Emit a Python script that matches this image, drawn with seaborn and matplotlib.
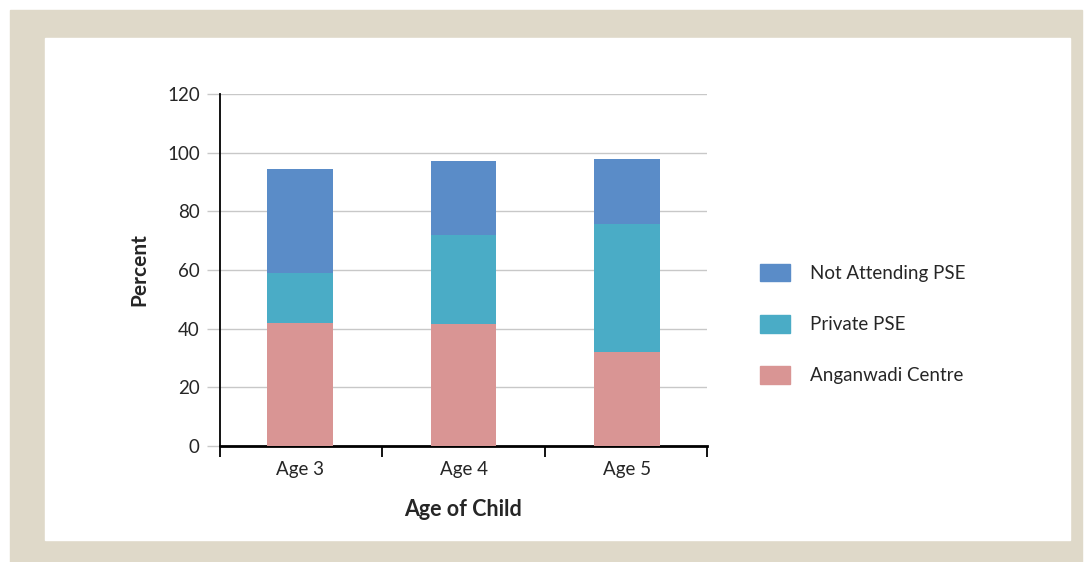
import numpy as np
import pandas as pd
import matplotlib
matplotlib.use("Agg")
import matplotlib.pyplot as plt
from matplotlib.patches import Rectangle
import seaborn as sns

# data
ages = ["Age 3", "Age 4", "Age 5"]
anganwadi = [41.8, 41.5, 32.0]
private_pse = [17.3, 30.6, 43.8]
not_attending = [35.5, 24.9, 21.9]

sns.set_style("white")
plt.rcParams["font.family"] = ["Lato", "DejaVu Sans"]

df = pd.DataFrame({"age": ages, "anganwadi": anganwadi,
                   "private": private_pse, "not_att": not_attending})
df["lvl2"] = df.anganwadi + df.private
df["lvl3"] = df.lvl2 + df.not_att

W, H = 1092, 562
fig = plt.figure(figsize=(W / 100, H / 100), dpi=100)
fig.patch.set_facecolor("white")
fig.patches.append(Rectangle((10 / W, 0), 1072 / W, 1 - 10 / H,
                             transform=fig.transFigure, color="#dfd9c9", zorder=-2))
fig.patches.append(Rectangle((45 / W, 1 - 540 / H), 1025 / W, 502 / H,
                             transform=fig.transFigure, color="white", zorder=-1))

ax = fig.add_axes([220 / W, 1 - 446 / H, 487 / W, 352 / H])
ax.set_facecolor("none")

c_blue, c_teal, c_pink = "#5a8cc8", "#4aacc6", "#d99594"
bar_kw = dict(width=0.4, saturation=1, ax=ax, linewidth=0, zorder=3)
sns.barplot(data=df, x="age", y="lvl3", color=c_blue, label="Not Attending PSE", **bar_kw)
sns.barplot(data=df, x="age", y="lvl2", color=c_teal, label="Private PSE", **bar_kw)
sns.barplot(data=df, x="age", y="anganwadi", color=c_pink, label="Anganwadi Centre", **bar_kw)
if ax.get_legend():
    ax.get_legend().remove()

ax.set_xlim(-0.49, 2.49)
ax.set_ylim(0, 120)
ax.set_yticks(np.arange(0, 121, 20))
ax.yaxis.grid(True, color="#c8c8c8", lw=1)
ax.set_axisbelow(True)

# ticks at category boundaries, labels in the middle
ax.set_xticks([-0.49, 0.5, 1.5, 2.49])
ax.set_xticklabels([])
ax.set_xticks([0, 1, 2], minor=True)
ax.set_xticklabels(ages, minor=True, fontsize=13.5)
ax.tick_params(axis="x", which="major", direction="out", length=8,
               width=1.3, color="black", bottom=True)
ax.tick_params(axis="x", which="minor", length=0, pad=11)
ax.tick_params(axis="y", direction="out", length=9.5, width=1,
               color="#c8c8c8", left=True, labelsize=13.5, pad=5)

for s in ["top", "right"]:
    ax.spines[s].set_visible(False)
ax.spines["left"].set_color("black")
ax.spines["left"].set_linewidth(1.3)
ax.spines["bottom"].set_color("black")
ax.spines["bottom"].set_linewidth(2)

ax.set_xlabel("Age of Child", fontsize=15.5, fontweight="bold", labelpad=15)
ax.set_ylabel("Percent", fontsize=15, fontweight="bold", labelpad=13)

handles = [Rectangle((0, 0), 1, 1, color=c) for c in (c_blue, c_teal, c_pink)]
fig.legend(handles, ["Not Attending PSE", "Private PSE", "Anganwadi Centre"],
           loc="center left", bbox_to_anchor=(743 / W, 1 - 324 / H),
           frameon=False, fontsize=13.5, handlelength=1.6, handleheight=1.07,
           labelspacing=1.77, handletextpad=1.07)

fig.savefig("out.png", dpi=100, facecolor=fig.get_facecolor())
